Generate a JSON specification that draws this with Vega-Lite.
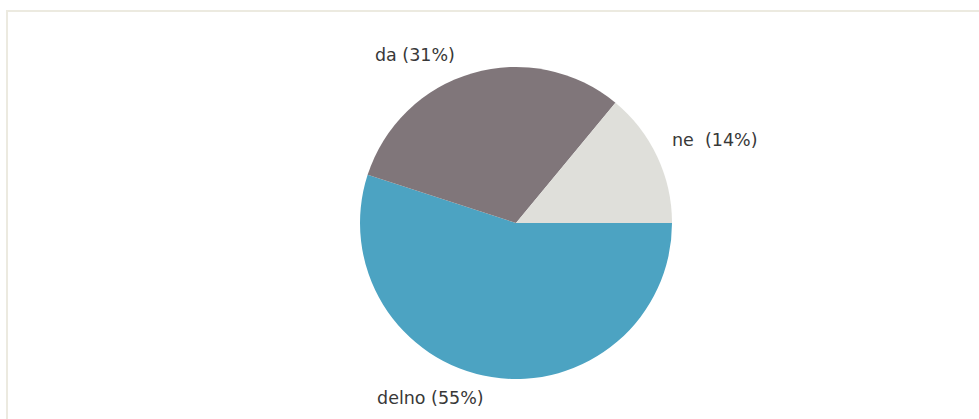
{
  "$schema": "https://vega.github.io/schema/vega-lite/v6.json",
  "width": 1018,
  "height": 424,
  "autosize": {"type": "none"},
  "padding": {"left": 7, "top": 11, "right": 0, "bottom": 0},
  "background": "#ffffff",
  "config": {"view": {"stroke": null}},
  "datasets": {
    "answers": [
      {"category": "delno", "label": "delno (55%)", "value": 55, "rank": 1},
      {"category": "da", "label": "da (31%)", "value": 31, "rank": 2},
      {"category": "ne", "label": "ne \u00a0(14%)", "value": 14, "rank": 3}
    ],
    "frame": [{"name": "frame"}]
  },
  "data": {"name": "answers"},
  "layer": [
    {
      "data": {"name": "frame"},
      "mark": {"type": "rect", "fill": null, "fillOpacity": 0, "stroke": "#ECEAE0", "strokeWidth": 2},
      "encoding": {}
    },
    {
      "mark": {"type": "arc", "outerRadius": 156},
      "encoding": {
        "theta": {"field": "value", "type": "quantitative", "stack": true, "scale": {"range": [1.5707963, 7.8539816]}},
        "order": {"field": "rank", "type": "quantitative"},
        "color": {"field": "category", "type": "nominal", "legend": null,
          "scale": {"domain": ["delno", "da", "ne"], "range": ["#4CA3C2", "#80767A", "#DFDFDA"]}}
      }
    },
    {
      "mark": {"type": "text", "radius": 175, "align": "left", "baseline": "middle", "dx": -111.6, "dy": 3.2, "font": "DejaVu Sans", "fontSize": 17.5, "fill": "#383838"},
      "encoding": {
        "theta": {"field": "value", "type": "quantitative", "stack": true},
        "order": {"field": "rank", "type": "quantitative"},
        "text": {"condition": {"test": "datum.category === 'delno'", "field": "label"}, "value": ""}
      }
    },
    {
      "mark": {"type": "text", "radius": 175, "align": "left", "baseline": "middle", "dx": -92.2, "dy": 1, "font": "DejaVu Sans", "fontSize": 17.5, "fill": "#383838"},
      "encoding": {
        "theta": {"field": "value", "type": "quantitative", "stack": true},
        "order": {"field": "rank", "type": "quantitative"},
        "text": {"condition": {"test": "datum.category === 'da'", "field": "label"}, "value": ""}
      }
    },
    {
      "mark": {"type": "text", "radius": 175, "align": "left", "baseline": "middle", "dx": -2.4, "dy": -7.5, "font": "DejaVu Sans", "fontSize": 17.5, "fill": "#383838"},
      "encoding": {
        "theta": {"field": "value", "type": "quantitative", "stack": true},
        "order": {"field": "rank", "type": "quantitative"},
        "text": {"condition": {"test": "datum.category === 'ne'", "field": "label"}, "value": ""}
      }
    }
  ]
}
